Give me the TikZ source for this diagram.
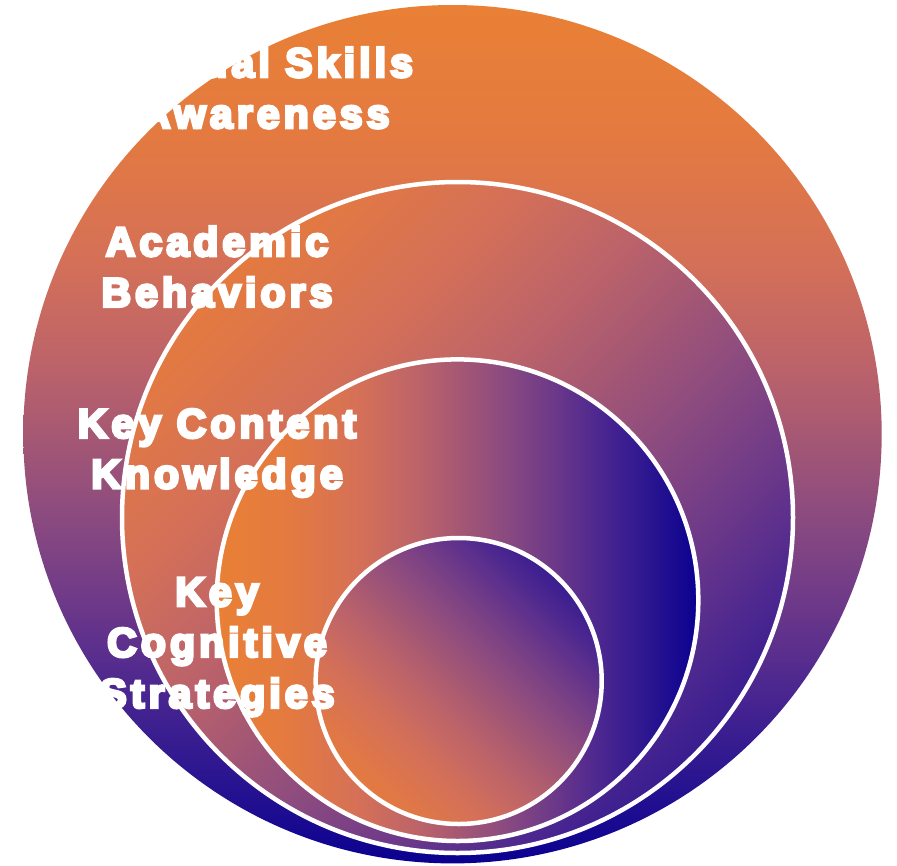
\documentclass[tikz,border=0pt]{standalone}
\usepackage{fontspec}
\setmainfont{Liberation Sans}[BoldFeatures={FakeBold=7,LetterSpace=10}]
\definecolor{gA}{HTML}{E98035}
\definecolor{gB}{HTML}{E47A40}
\definecolor{gC}{HTML}{D47058}
\definecolor{gD}{HTML}{BC636A}
\definecolor{gE}{HTML}{A65873}
\definecolor{gF}{HTML}{8A4A80}
\definecolor{gG}{HTML}{6C3889}
\definecolor{gH}{HTML}{4A2690}
\definecolor{gI}{HTML}{2A1590}
\definecolor{gJ}{HTML}{0A0090}
% edge-to-edge profile (circle diameter spans 25bp..75bp)
\pgfdeclarehorizontalshading{edgeshade}{100bp}{color(0bp)=(gA); color(25bp)=(gA); color(32.5bp)=(gB); color(40bp)=(gC); color(46bp)=(gD); color(50bp)=(gE); color(55bp)=(gF); color(60bp)=(gG); color(65bp)=(gH); color(70bp)=(gI); color(75bp)=(gJ); color(100bp)=(gJ)}
% corner-to-corner profile (gradient spans the bounding square's diagonal)
\pgfdeclarehorizontalshading{cornershade}{100bp}{color(0bp)=(gA); color(14.64bp)=(gA); color(25.25bp)=(gB); color(35.85bp)=(gC); color(44.34bp)=(gD); color(50bp)=(gE); color(57.07bp)=(gF); color(64.14bp)=(gG); color(71.21bp)=(gH); color(78.28bp)=(gI); color(85.36bp)=(gJ); color(100bp)=(gJ)}
\tikzset{
  ring/.style={draw=white, line width=4.5pt},
  lbl/.style={text=white, font=\fontsize{41}{50}\selectfont\bfseries, anchor=base, inner sep=0pt}
}
\begin{document}
\begin{tikzpicture}[x=1pt,y=-1pt]
\useasboundingbox (0,0) rectangle (897,865);
% outer circle: vertical, orange top -> navy bottom
\shade[shading=edgeshade, shading angle=-90] (452.5,434.2) circle (429.2);
% second circle: diagonal, orange top-left -> navy bottom-right
\shade[ring, shading=cornershade, shading angle=-45] (457.5,517.5) circle (335.5);
% third circle: horizontal, orange left -> navy right
\shade[ring, shading=edgeshade, shading angle=0] (457.5,600.2) circle (240.8);
% inner circle: diagonal, orange bottom-left -> navy top-right
\shade[ring, shading=cornershade, shading angle=45] (458.7,681) circle (143);
% labels
\node[lbl] (cs1) at (217,77) {Contextual Skills};
\node[lbl] (cs2) at (217,128) {and Awareness};
\node[lbl] (ab1) at (217,256) {Academic};
\node[lbl] (ab2) at (217,306.7) {Behaviors};
\node[lbl] (kc1) at (217,437.7) {Key Content};
\node[lbl] (kc2) at (217,488.3) {Knowledge};
\node[lbl] (kg1) at (217,606) {Key};
\node[lbl] (kg2) at (217,656.7) {Cognitive};
\node[lbl] (kg3) at (217,707.7) {Strategies};
\end{tikzpicture}
\end{document}
